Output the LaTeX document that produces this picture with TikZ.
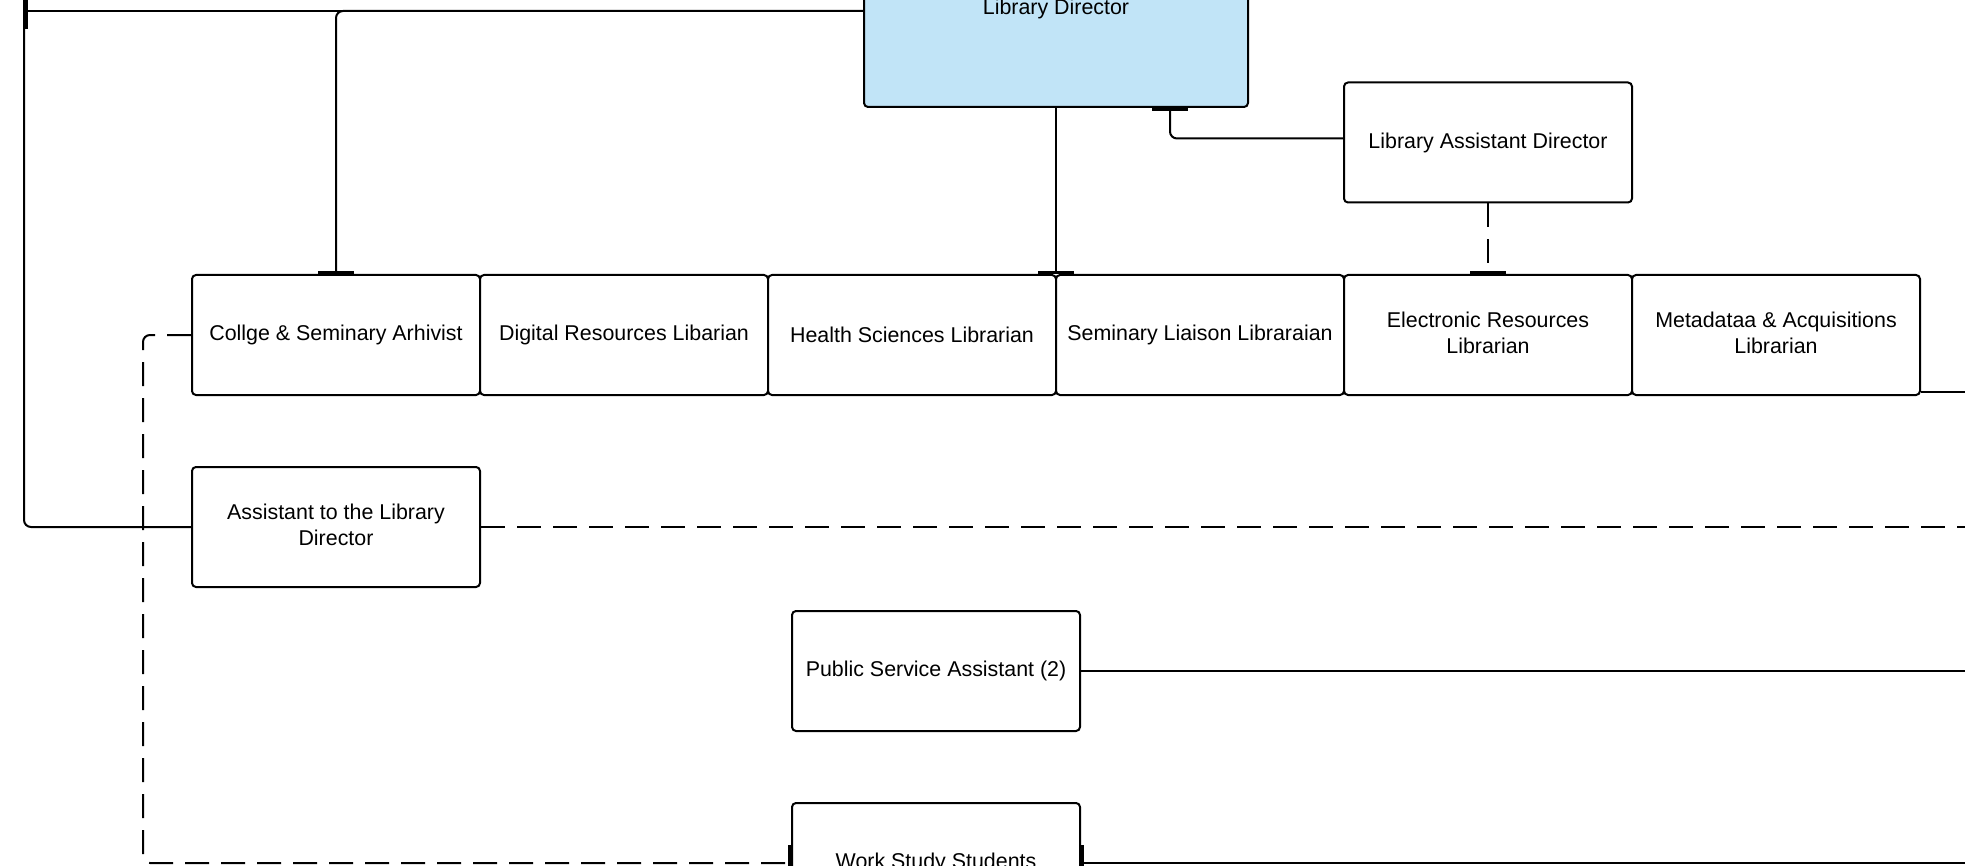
\documentclass[tikz,border=0pt]{standalone}
\usepackage{fontspec}
\setmainfont{Liberation Sans}
\usetikzlibrary{arrows.meta}
\definecolor{ldblue}{RGB}{193,228,247}
\newcommand{\twolines}[2]{\raisebox{1.5pt}{\begin{tabular}{@{}c@{}}#1\\#2\end{tabular}}}
\begin{document}
\begin{tikzpicture}[x=0.5pt,y=-0.5pt,
  box/.style={draw=black,line width=1pt,rounded corners=2pt,fill=white,
    minimum width=144pt,minimum height=60pt,inner sep=2pt,align=center,
    font=\fontsize{10.7pt}{13pt}\selectfont},
  conn/.style={line width=1pt,rounded corners=3.5pt},
  dashconn/.style={conn,dash pattern=on 12pt off 6pt},
  tee/.style={-{Bar[width=18pt,line width=1.6pt]}},
  teestart/.style={{Bar[width=18pt,line width=1.6pt]}-}]
\useasboundingbox (0,0) rectangle (1965,866);
\clip (0,0) rectangle (1965,866);
\fill[white] (0,0) rectangle (1965,866);

% nodes
\node[box,fill=ldblue,minimum width=192pt,minimum height=98pt] (LD) at (1056,9) {Library Director};
\node[box] (LAD) at (1488,142.5) {Library Assistant Director};
\node[box] (C1) at (336,335) {Collge \& Seminary Arhivist};
\node[box] (C2) at (624,335) {Digital Resources Libarian};
\node[box] (C3) at (912,335) {Health Sciences Librarian};
\node[box] (C4) at (1200,335) {Seminary Liaison Libraraian};
\node[box] (C5) at (1488,335) {\twolines{Electronic Resources}{Librarian}};
\node[box] (C6) at (1776,335) {\twolines{Metadataa \& Acquisitions}{Librarian}};
\node[box] (ATLD) at (336,527) {\twolines{Assistant to the Library}{Director}};
\node[box] (PSA) at (936,671) {Public Service Assistant (2)};
\node[box] (WSS) at (936,863) {Work Study Students};

% free ends
\coordinate (topL) at (24,-30);
\coordinate (leftEnd) at (25,11);
\coordinate (dl) at (143,600);
\coordinate (R) at (1975,0);

% connectors
\draw[conn,line width=1.3pt,tee] ([yshift=-1pt]LD.west) -- (leftEnd);
\draw[conn,tee] ([yshift=-1pt]LD.west) -| (C1.north);
\draw[conn] (topL) |- (ATLD.west);
\draw[conn,tee] (LD.south) -- (LD.south |- C4.north west);
\draw[conn,tee] ([yshift=2pt]LAD.west) -| ([xshift=57pt]LD.south);
\draw[dashconn,tee] (LAD.south) -- (C5.north);
\draw[conn] ([yshift=-28.5pt]C6.east) -- ([yshift=-28.5pt]C6.east -| R);
\draw[dashconn,tee] (C1.west) -| (dl) |- (WSS.west);
\draw[dashconn] (ATLD.east) -- (ATLD.east -| R);
\draw[conn] (PSA.east) -- (PSA.east -| R);
\draw[conn,teestart] (WSS.east) -- (WSS.east -| R);
\end{tikzpicture}
\end{document}
